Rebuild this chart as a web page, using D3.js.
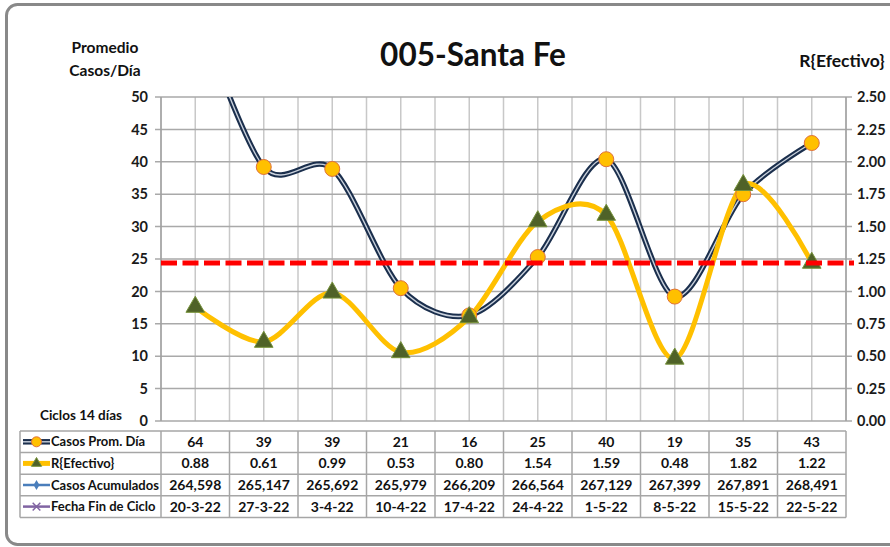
<!DOCTYPE html>
<html>
<head>
<meta charset="utf-8">
<script src="https://cdn.jsdelivr.net/npm/d3@7"></script>
<style>
  body { margin: 0; background: #fff; }
  svg { display: block; font-family: Lato, "Noto Sans", sans-serif; font-weight: bold; }
</style>
</head>
<body>
<svg id="chart"></svg>
<script>
// Ciclos de 14 días – Santa Fe
const fechas      = ["20-3-22", "27-3-22", "3-4-22", "10-4-22", "17-4-22", "24-4-22", "1-5-22", "8-5-22", "15-5-22", "22-5-22"];
const casosProm   = [64.1, 39.2, 38.9, 20.5, 16.3, 25.3, 40.4, 19.2, 35.0, 42.9];
const rEfectivo   = [0.88, 0.61, 0.99, 0.53, 0.80, 1.54, 1.59, 0.48, 1.82, 1.22];
const casosAcum   = [264598, 265147, 265692, 265979, 266209, 266564, 267129, 267399, 267891, 268491];
const leftTicks   = [0, 5, 10, 15, 20, 25, 30, 35, 40, 45, 50];
const rightTicks  = [0, 0.25, 0.5, 0.75, 1, 1.25, 1.5, 1.75, 2, 2.25, 2.5];
const rUmbral     = rEfectivo[rEfectivo.length - 1];

const width = 890, height = 547;
const plot = { left: 161, right: 846, top: 97, bottom: 421 };

const svg = d3.select("#chart").attr("width", width).attr("height", height);

// Rahmen
svg.append("rect")
  .attr("x", 6.5).attr("y", 4.5).attr("width", 900).attr("height", 540)
  .attr("rx", 11).attr("fill", "#fff")
  .attr("stroke", "#898989").attr("stroke-width", 3);

const band = d3.scaleBand().domain(fechas).range([plot.left, plot.right]);
const xc = d => band(d) + band.bandwidth() / 2;

const yL = d3.scaleLinear().domain([0, 50]).range([plot.bottom, plot.top]);
const yR = d3.scaleLinear().domain([0, 2.5]).range([plot.bottom, plot.top]);

// Gitter
const half = band.bandwidth() / 2;
const vLines = d3.range(0, fechas.length * 2 + 1).map(i => plot.left + i * half);
svg.append("g").selectAll("line").data(vLines).join("line")
  .attr("x1", d => d).attr("x2", d => d)
  .attr("y1", plot.top).attr("y2", plot.bottom)
  .attr("stroke", "#c8c8c8").attr("stroke-width", 1.5);

svg.append("g").selectAll("line").data(leftTicks).join("line")
  .attr("x1", plot.left - 6).attr("x2", plot.right + 6)
  .attr("y1", d => yL(d)).attr("y2", d => yL(d))
  .attr("stroke", "#a9a9a9").attr("stroke-width", 1.5);

svg.append("line")
  .attr("x1", plot.left).attr("x2", plot.left)
  .attr("y1", plot.top).attr("y2", plot.bottom)
  .attr("stroke", "#a0a0a0").attr("stroke-width", 1.5);
svg.append("line")
  .attr("x1", plot.right).attr("x2", plot.right)
  .attr("y1", plot.top).attr("y2", plot.bottom)
  .attr("stroke", "#a0a0a0").attr("stroke-width", 1.5);

// Achsen
const axL = svg.append("g")
  .attr("transform", `translate(${plot.left},0)`)
  .call(d3.axisLeft(yL).tickValues(leftTicks).tickSize(0).tickPadding(13));
const axR = svg.append("g")
  .attr("transform", `translate(${plot.right},0)`)
  .call(d3.axisRight(yR).tickValues(rightTicks).tickSize(0).tickPadding(11).tickFormat(d3.format(".2f")));
[axL, axR].forEach(a => {
  a.select(".domain").remove();
  a.selectAll("text").attr("font-size", 14.5).attr("font-family", "Lato, sans-serif")
    .attr("font-weight", "bold").attr("fill", "#1a1a1a");
});

// Titel
svg.append("text").attr("x", 473).attr("y", 66).attr("text-anchor", "middle")
  .attr("font-size", 31.5).attr("fill", "#111").text("005-Santa Fe");
svg.append("text").attr("x", 105).attr("y", 53).attr("text-anchor", "middle")
  .attr("font-size", 15.5).attr("fill", "#111").text("Promedio");
svg.append("text").attr("x", 105).attr("y", 76).attr("text-anchor", "middle")
  .attr("font-size", 15.5).attr("fill", "#111").text("Casos/Día");
svg.append("text").attr("x", 842).attr("y", 67).attr("text-anchor", "middle")
  .attr("font-size", 17.5).attr("fill", "#111").text("R{Efectivo}");
svg.append("text").attr("x", 81).attr("y", 420).attr("text-anchor", "middle")
  .attr("font-size", 13.5).attr("fill", "#111").text("Ciclos 14 días");

// Clip
svg.append("clipPath").attr("id", "clip").append("rect")
  .attr("x", plot.left).attr("y", plot.top)
  .attr("width", plot.right - plot.left).attr("height", plot.bottom - plot.top);

const curve = d3.curveCardinal.tension(0.1);
const lineCasos = d3.line().x((d, i) => xc(fechas[i])).y(d => yL(d)).curve(curve);
const lineR = d3.line().x((d, i) => xc(fechas[i])).y(d => yR(d)).curve(curve);

const gLines = svg.append("g").attr("clip-path", "url(#clip)");

// Casos Prom. Día – doppelte Linie
gLines.append("path").datum(casosProm).attr("d", lineCasos)
  .attr("fill", "none").attr("stroke", "#1b2f4d").attr("stroke-width", 5.5);
gLines.append("path").datum(casosProm).attr("d", lineCasos)
  .attr("fill", "none").attr("stroke", "#c9d1dc").attr("stroke-width", 1.4);

// R{Efectivo}
gLines.append("path").datum(rEfectivo).attr("d", lineR)
  .attr("fill", "none").attr("stroke", "#ffc000").attr("stroke-width", 5);

// Umbral
svg.append("line")
  .attr("x1", plot.left).attr("x2", plot.right + 8)
  .attr("y1", yR(rUmbral)).attr("y2", yR(rUmbral))
  .attr("stroke", "#ff0000").attr("stroke-width", 5)
  .attr("stroke-dasharray", "16,5.5");

// Marker
gLines.append("g").selectAll("circle").data(casosProm).join("circle")
  .attr("cx", (d, i) => xc(fechas[i])).attr("cy", d => yL(d)).attr("r", 7.5)
  .attr("fill", "#ffc000").attr("stroke", "#e0703a").attr("stroke-width", 1);

const tri = d3.symbol().type(d3.symbolTriangle).size(150);
gLines.append("g").selectAll("path").data(rEfectivo).join("path")
  .attr("transform", (d, i) => `translate(${xc(fechas[i])},${yR(d)})`)
  .attr("d", tri)
  .attr("fill", "#4f6228").attr("stroke", "#77933c").attr("stroke-width", 1);

// Tabelle
const rowTop = 431, rowH = 21.6, tLeft = 20;
const rows = [
  { label: "Casos Prom. Día", vals: casosProm.map(d => d3.format(".0f")(d)) },
  { label: "R{Efectivo}", vals: rEfectivo.map(d3.format(".2f")) },
  { label: "Casos Acumulados", vals: casosAcum.map(d3.format(",")) },
  { label: "Fecha Fin de Ciclo", vals: fechas }
];

const gT = svg.append("g");
const tStroke = "#a6a6a6";
d3.range(rows.length + 1).forEach(i => {
  gT.append("line").attr("x1", tLeft).attr("x2", plot.right)
    .attr("y1", rowTop + i * rowH).attr("y2", rowTop + i * rowH)
    .attr("stroke", tStroke).attr("stroke-width", 1.5);
});
[tLeft, ...fechas.map(f => band(f)), plot.right].forEach(x => {
  gT.append("line").attr("x1", x).attr("x2", x)
    .attr("y1", rowTop).attr("y2", rowTop + rows.length * rowH)
    .attr("stroke", tStroke).attr("stroke-width", 1.5);
});

rows.forEach((r, ri) => {
  const cy = rowTop + ri * rowH + rowH / 2;
  gT.append("text").attr("x", 51).attr("y", cy).attr("dy", "0.35em")
    .attr("font-size", 13).attr("fill", "#111").text(r.label);
  gT.selectAll(null).data(r.vals).join("text")
    .attr("x", (d, i) => xc(fechas[i])).attr("y", cy).attr("dy", "0.35em")
    .attr("text-anchor", "middle").attr("font-size", 14).attr("fill", "#111")
    .text(d => d);
});

// Legendensymbole
const lx1 = 23, lx2 = 50, lm = 36.5;
const ly = i => rowTop + i * rowH + rowH / 2;
gT.append("line").attr("x1", lx1).attr("x2", lx2).attr("y1", ly(0)).attr("y2", ly(0))
  .attr("stroke", "#1b2f4d").attr("stroke-width", 5.5);
gT.append("line").attr("x1", lx1).attr("x2", lx2).attr("y1", ly(0)).attr("y2", ly(0))
  .attr("stroke", "#c9d1dc").attr("stroke-width", 1.4);
gT.append("circle").attr("cx", lm).attr("cy", ly(0)).attr("r", 5)
  .attr("fill", "#ffc000").attr("stroke", "#e0703a");

gT.append("line").attr("x1", lx1).attr("x2", lx2).attr("y1", ly(1)).attr("y2", ly(1))
  .attr("stroke", "#ffc000").attr("stroke-width", 5);
gT.append("path").attr("transform", `translate(${lm},${ly(1)})`)
  .attr("d", d3.symbol().type(d3.symbolTriangle).size(45))
  .attr("fill", "#4f6228").attr("stroke", "#77933c");

gT.append("line").attr("x1", lx1).attr("x2", lx2).attr("y1", ly(2)).attr("y2", ly(2))
  .attr("stroke", "#4a7ebb").attr("stroke-width", 2.5);
gT.append("path").attr("transform", `translate(${lm},${ly(2)})`)
  .attr("d", d3.symbol().type(d3.symbolDiamond).size(30))
  .attr("fill", "#4a7ebb");

gT.append("line").attr("x1", lx1).attr("x2", lx2).attr("y1", ly(3)).attr("y2", ly(3))
  .attr("stroke", "#8064a2").attr("stroke-width", 2.5);
gT.append("path").attr("transform", `translate(${lm},${ly(3)})`)
  .attr("d", d3.symbol().type(d3.symbolX).size(40))
  .attr("fill", "none").attr("stroke", "#8064a2").attr("stroke-width", 1.5);
</script>
</body>
</html>
